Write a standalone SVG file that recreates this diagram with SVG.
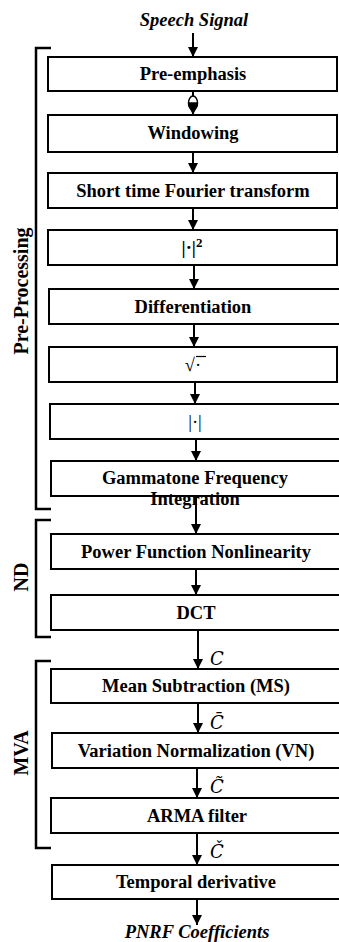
<svg xmlns="http://www.w3.org/2000/svg" width="339" height="942" viewBox="0 0 339 942">
<defs>
<style>
.box{fill:#fff;stroke:#000;stroke-width:2}
.t{font-family:"Liberation Serif",serif;font-weight:bold;font-size:18.5px;text-anchor:middle;fill:#000}
.io{font-family:"Liberation Serif",serif;font-weight:bold;font-style:italic;font-size:18.5px;text-anchor:middle;fill:#000}
.lab{font-family:"Liberation Serif",serif;font-weight:bold;font-size:20px;text-anchor:middle;fill:#000}
.m{font-family:"DejaVu Serif","Liberation Serif",serif;font-style:italic;font-size:18px;fill:#000}
.ln{stroke:#000;stroke-width:2;fill:none}
.br{stroke:#000;stroke-width:2.5;fill:none}
</style>
<marker id="ah" viewBox="0 0 10 10" refX="10" refY="5" markerWidth="10" markerHeight="10" markerUnits="userSpaceOnUse" orient="auto">
<path d="M0,0 L10,5 L0,10 z" fill="#000"/>
</marker>
</defs>
<rect width="339" height="942" fill="#fff"/>

<g id="brackets">
<path class="br" d="M51,48 H36 V509 H51"/>
<path class="br" d="M51,520 H36 V637 H51"/>
<path class="br" d="M51,661 H36 V848 H51"/>
<text class="lab" transform="translate(28,291) rotate(-90)">Pre-Processing</text>
<text class="lab" transform="translate(28,577) rotate(-90)">ND</text>
<text class="lab" transform="translate(28,753) rotate(-90)">MVA</text>
</g>

<g id="connectors">
<line class="ln" x1="193" y1="33" x2="193" y2="57" marker-end="url(#ah)"/>
<line class="ln" x1="193" y1="91" x2="193" y2="115" marker-end="url(#ah)"/>
<ellipse cx="193" cy="103" rx="4.5" ry="7" fill="#fff" stroke="#000" stroke-width="1.5"/>
<path d="M188.5,103 A4.5,7 0 0 0 197.5,103 z" fill="#000"/>
<line x1="188.5" y1="103" x2="197.5" y2="103" stroke="#000" stroke-width="1.5"/>
<line class="ln" x1="193" y1="152" x2="193" y2="173" marker-end="url(#ah)"/>
<line class="ln" x1="193" y1="208" x2="193" y2="230" marker-end="url(#ah)"/>
<line class="ln" x1="194" y1="265" x2="194" y2="289" marker-end="url(#ah)"/>
<line class="ln" x1="194" y1="324" x2="194" y2="347" marker-end="url(#ah)"/>
<line class="ln" x1="195" y1="382" x2="195" y2="404" marker-end="url(#ah)"/>
<line class="ln" x1="196" y1="439" x2="196" y2="461" marker-end="url(#ah)"/>
<line class="ln" x1="196" y1="496" x2="196" y2="534" marker-end="url(#ah)"/>
<line class="ln" x1="196" y1="569" x2="196" y2="595" marker-end="url(#ah)"/>
<line class="ln" x1="198" y1="630" x2="198" y2="669" marker-end="url(#ah)"/>
<line class="ln" x1="198" y1="703" x2="198" y2="733" marker-end="url(#ah)"/>
<line class="ln" x1="197" y1="768" x2="197" y2="798" marker-end="url(#ah)"/>
<line class="ln" x1="197" y1="833" x2="197" y2="865" marker-end="url(#ah)"/>
<line class="ln" x1="197" y1="899" x2="197" y2="925" marker-end="url(#ah)"/>
<text class="m" x="210" y="665">C</text>
<text class="m" x="210" y="729">C&#x304;</text>
<text class="m" x="210" y="793">C&#x303;</text>
<text class="m" x="210" y="858">&#x10C;</text>
</g>

<g id="in"><text class="io" x="194" y="26">Speech Signal</text></g>

<g id="n1"><rect class="box" x="48" y="57" width="289" height="34"/><text class="t" x="193" y="80">Pre-emphasis</text></g>
<g id="n2"><rect class="box" x="48" y="115" width="289" height="37"/><text class="t" x="193" y="139">Windowing</text></g>
<g id="n3"><rect class="box" x="48" y="173" width="289" height="35"/><text class="t" x="193" y="197">Short time Fourier transform</text></g>
<g id="n4"><rect class="box" x="48" y="230" width="289" height="35"/><text class="t" x="192" y="254">|·|<tspan font-size="13" dy="-7">2</tspan></text></g>
<g id="n5"><rect class="box" x="49" y="289" width="293" height="35"/><text class="t" x="193" y="313">Differentiation</text></g>
<g id="n6"><rect class="box" x="49" y="347" width="288" height="35"/><text class="t" x="193" y="371" style="font-weight:normal">√·</text><line x1="196" y1="356.5" x2="206" y2="356.5" stroke="#000" stroke-width="1.2"/></g>
<g id="n7"><rect class="box" x="50" y="404" width="292" height="35"/><text class="t" x="195" y="428" style="font-weight:normal">|·|</text></g>
<g id="n8"><rect class="box" x="51" y="461" width="291" height="35"/><text class="t" x="195" y="484">Gammatone Frequency</text><text class="t" x="195" y="505">Integration</text></g>
<g id="n9"><rect class="box" x="51" y="534" width="291" height="35"/><text class="t" x="196" y="558">Power Function Nonlinearity</text></g>
<g id="n10"><rect class="box" x="51" y="595" width="291" height="35"/><text class="t" x="196" y="619">DCT</text></g>
<g id="n11"><rect class="box" x="51" y="669" width="291" height="34"/><text class="t" x="196" y="692">Mean Subtraction (MS)</text></g>
<g id="n12"><rect class="box" x="52" y="733" width="290" height="35"/><text class="t" x="196" y="757">Variation Normalization (VN)</text></g>
<g id="n13"><rect class="box" x="51" y="798" width="291" height="35"/><text class="t" x="197" y="822">ARMA filter</text></g>
<g id="n14"><rect class="box" x="52" y="865" width="290" height="34"/><text class="t" x="196" y="888">Temporal derivative</text></g>
<g id="out"><text class="io" x="197" y="938">PNRF Coefficients</text></g>
</svg>
